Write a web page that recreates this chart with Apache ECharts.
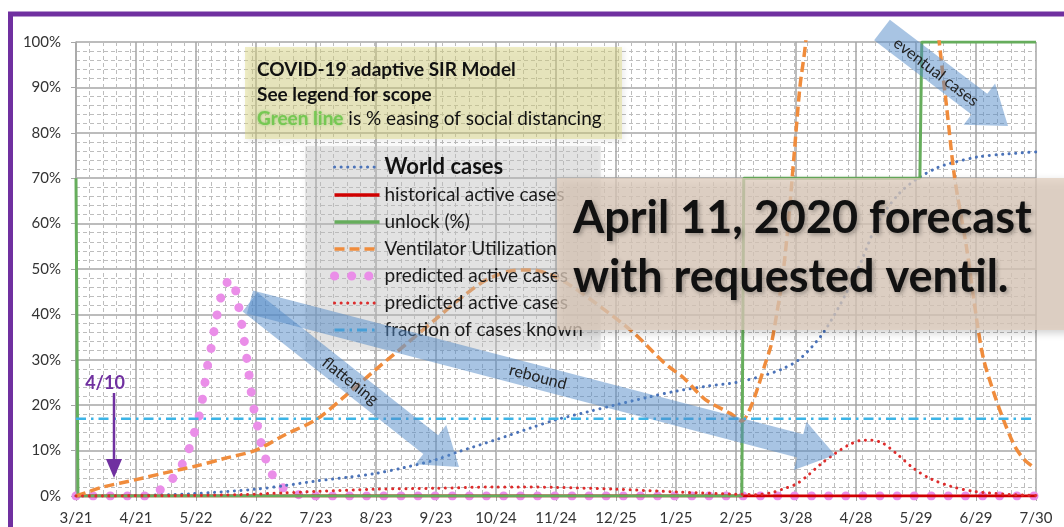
<!DOCTYPE html>
<html>
<head>
<meta charset="utf-8">
<script src="https://cdn.jsdelivr.net/npm/echarts@6/dist/echarts.min.js"></script>
<style>
html, body { margin: 0; padding: 0; background: #fff; }
#main { width: 1064px; height: 527px; }
</style>
</head>
<body>
<div id="main"></div>
<script>
// x is days since 3/21/2020, y is percent
var tickLabels = ['3/21', '4/21', '5/22', '6/22', '7/23', '8/23', '9/23', '10/24', '11/24',
    '12/25', '1/25', '2/25', '3/28', '4/28', '5/29', '6/29', '7/30'];

var worldDays = [0, 30, 60, 93, 108, 124, 140, 155, 170, 186, 198, 217, 235, 248, 264, 279, 295, 310, 326, 341, 355, 365, 374, 386, 398, 406, 414, 425, 435, 445, 452, 466, 480, 496];
var worldVals = [0, 0.1, 0.5, 1.5, 2.3, 3.3, 4.1, 5, 6.3, 8, 9.8, 12.4, 15, 16.8, 18.5, 20.1, 21.7, 23.1, 24.2, 25, 26.5, 28, 30.2, 35.9, 44.7, 52, 60, 66.5, 70, 72.3, 73.3, 74.7, 75.3, 75.8];

var histDays = [0, 496];
var histVals = [0, 0];

var unlockDays = [0, 1, 344, 345, 436, 437, 496];
var unlockVals = [70, 0, 0, 70, 70, 100, 100];

var ventDays = [0, 7, 14, 31, 46, 62, 76, 93, 108, 124, 139, 155, 171, 186, 200, 212, 225, 235, 245, 255, 270, 288, 304, 314, 325, 338, 344, 348, 352, 356, 359, 362, 365, 368, 371, 374, 377, 381, 390, 410, 430, 440, 446, 450, 454, 460, 466, 469, 474, 479, 485, 490, 496];
var ventVals = [0, 1, 2, 3.6, 5.1, 6.6, 8.2, 10.1, 13.5, 16.8, 22, 27.9, 33.6, 39, 44, 47.6, 49.6, 49.8, 48.8, 46.5, 42, 36, 29.3, 26, 21.3, 18.2, 16.5, 19, 23.5, 29, 33, 40, 48, 60, 75, 90, 100, 125, 170, 220, 170, 125, 100, 85, 70, 55, 37, 30, 23, 17, 11, 8, 6];

var pinkDays = [0, 36, 40, 46, 52, 57, 60, 63, 65, 66.5, 68, 70, 72, 75, 78, 81, 83, 85, 87, 89, 90.5, 92, 94, 96, 99, 103, 109, 116, 125, 496];
var pinkVals = [0, 0, 0.7, 2, 5, 8.7, 12.4, 16.5, 20.5, 24.6, 28.8, 33, 38, 44, 47, 47.5, 44, 39.5, 34, 28, 23, 19, 15, 11, 7, 3.5, 1.2, 0.2, 0, 0];

var redDays = [0, 60, 85, 108, 124, 155, 186, 217, 229, 248, 279, 310, 341, 352, 360, 365, 372, 378, 385, 392, 399, 405, 411, 417, 424, 433, 442, 453, 464, 480, 496];
var redVals = [0, 0.1, 0.3, 0.7, 1, 1.5, 1.7, 2, 2, 1.9, 1.5, 0.9, 0.4, 0.3, 0.8, 1.5, 2.6, 4.5, 7.1, 9.3, 11.2, 12.2, 12.3, 11.6, 9.3, 6, 3.7, 2, 1, 0.4, 0.1];

var knownDays = [0, 496];
var knownVals = [17, 17];

var FONT = 'Lato, "Open Sans", sans-serif';

function pairs(days, vals) {
    return days.map(function (d, i) { return [d, vals[i]]; });
}

function arrowPts(x1, y1, x2, y2, sw, hw, hl) {
    var dx = x2 - x1, dy = y2 - y1;
    var L = Math.sqrt(dx * dx + dy * dy);
    var ux = dx / L, uy = dy / L, px = -uy, py = ux;
    var bx = x2 - ux * hl, by = y2 - uy * hl;
    return [
        [x1 + px * sw / 2, y1 + py * sw / 2],
        [bx + px * sw / 2, by + py * sw / 2],
        [bx + px * hw / 2, by + py * hw / 2],
        [x2, y2],
        [bx - px * hw / 2, by - py * hw / 2],
        [bx - px * sw / 2, by - py * sw / 2],
        [x1 - px * sw / 2, y1 - py * sw / 2]
    ];
}

function angleOf(x1, y1, x2, y2) {
    return -Math.atan2(y2 - y1, x2 - x1);
}

var arrowFill = 'rgba(82,137,200,0.5)';
var myChart = echarts.init(document.getElementById('main'));

var gridLine = '#a6a6a6';
var minorLine = '#bdbdbd';
var noSymbol = { color: 'rgba(0,0,0,0)', opacity: 0, borderWidth: 0 };

var option = {
    animation: false,
    backgroundColor: '#fff',
    grid: { left: 76, right: 28, top: 42, bottom: 31, containLabel: false },
    xAxis: [{
        type: 'value',
        min: 0,
        max: 496,
        interval: 31,
        axisLine: { show: true, lineStyle: { color: gridLine, width: 1.5 } },
        axisTick: { show: true, length: 5, lineStyle: { color: gridLine } },
        axisLabel: {
            margin: 15,
            color: '#333',
            fontSize: 15,
            fontFamily: FONT,
            formatter: function (v) { return tickLabels[Math.round(v / 31)]; }
        },
        splitLine: { show: true, lineStyle: { color: gridLine, width: 1.5 } }
    }, {
        // minor weekly gridlines
        type: 'value',
        min: 0,
        max: 496,
        interval: 7,
        position: 'bottom',
        axisLine: { show: false },
        axisTick: { show: false },
        axisLabel: { show: false },
        splitLine: { show: true, lineStyle: { color: minorLine, width: 1, type: [4, 3] } }
    }],
    yAxis: {
        type: 'value',
        min: 0,
        max: 100,
        interval: 10,
        axisLine: { show: true, lineStyle: { color: gridLine, width: 1.5 } },
        axisTick: { show: true, length: 5, lineStyle: { color: gridLine } },
        axisLabel: {
            margin: 15,
            color: '#333',
            fontSize: 15,
            fontFamily: FONT,
            formatter: '{value}%'
        },
        splitLine: { show: true, lineStyle: { color: gridLine, width: 1.5 } },
        minorTick: { show: false, splitNumber: 5 },
        minorSplitLine: { show: true, lineStyle: { color: minorLine, width: 1, type: [4, 3] } }
    },
    legend: {
        orient: 'vertical',
        left: 305,
        top: 146,
        padding: [10, 18, 10, 25],
        itemWidth: 45,
        itemHeight: 14,
        itemGap: 7,
        backgroundColor: 'rgba(200,200,200,0.4)',
        shadowBlur: 6,
        shadowColor: 'rgba(0,0,0,0.12)',
        selectedMode: false,
        itemStyle: noSymbol,
        textStyle: {
            fontFamily: FONT,
            fontSize: 19,
            lineHeight: 20,
            color: '#1a1a1a',
            rich: {
                b: { fontFamily: FONT, fontSize: 22, fontWeight: 'bold', lineHeight: 20, color: '#111' }
            }
        },
        formatter: function (name) {
            return name === 'World cases' ? '{b|' + name + '}' : name;
        },
        data: [
            { name: 'World cases', lineStyle: { width: 3, color: '#4a72b8' } },
            { name: 'historical active cases', lineStyle: { width: 3.5, color: '#d00000' } },
            { name: 'unlock (%)', lineStyle: { width: 3.5, color: '#66ad5c' } },
            { name: 'Ventilator Utilization', lineStyle: { width: 3.5, color: '#f08c3c' } },
            { name: 'predicted active cases', lineStyle: { width: 9, color: '#ea8ee8' } },
            { name: 'predicted active cases ', lineStyle: { width: 3, color: '#dd2b2b' } },
            { name: 'fraction of cases known', lineStyle: { width: 3, color: '#3cb4e6' } }
        ]
    },
    series: [{
        name: 'World cases',
        type: 'line',
        smooth: 0.3,
        symbol: 'none',
        data: pairs(worldDays, worldVals),
        itemStyle: { color: '#4a72b8' },
        lineStyle: { color: '#4a72b8', width: 3, type: [0.1, 6.5], cap: 'round' }
    }, {
        name: 'historical active cases',
        type: 'line',
        symbol: 'none',
        data: pairs(histDays, histVals),
        itemStyle: { color: '#d00000' },
        lineStyle: { color: '#d00000', width: 3 }
    }, {
        name: 'unlock (%)',
        type: 'line',
        symbol: 'none',
        data: pairs(unlockDays, unlockVals),
        itemStyle: { color: '#66ad5c' },
        lineStyle: { color: '#66ad5c', width: 3 }
    }, {
        name: 'Ventilator Utilization',
        type: 'line',
        smooth: 0.3,
        symbol: 'none',
        data: pairs(ventDays, ventVals),
        itemStyle: { color: '#f08c3c' },
        lineStyle: { color: '#f08c3c', width: 3.5, type: [10, 5] }
    }, {
        name: 'predicted active cases',
        type: 'line',
        z: 1,
        smooth: 0.25,
        symbol: 'none',
        data: pairs(pinkDays, pinkVals),
        itemStyle: { color: '#ea8ee8' },
        lineStyle: { color: '#ea8ee8', width: 9, type: [0.1, 17], cap: 'round' }
    }, {
        name: 'predicted active cases ',
        type: 'line',
        smooth: 0.3,
        symbol: 'none',
        data: pairs(redDays, redVals),
        itemStyle: { color: '#dd2b2b' },
        lineStyle: { color: '#dd2b2b', width: 3, type: [0.1, 6.5], cap: 'round' }
    }, {
        name: 'fraction of cases known',
        type: 'line',
        symbol: 'none',
        data: pairs(knownDays, knownVals),
        itemStyle: { color: '#3cb4e6' },
        lineStyle: { color: '#3cb4e6', width: 2.5, type: [10, 5, 2.5, 5] }
    }],
    graphic: [
        // purple frame
        { type: 'rect', z: 50, shape: { x: 10.5, y: 14, width: 1100, height: 600 },
          style: { fill: null, stroke: '#7030a0', lineWidth: 5 } },
        // title box
        { type: 'rect', z: 60, shape: { x: 245, y: 47, width: 377, height: 92 },
          style: { fill: 'rgba(225,220,130,0.45)', shadowBlur: 6, shadowColor: 'rgba(0,0,0,0.18)', shadowOffsetX: 2, shadowOffsetY: 2 } },
        { type: 'text', z: 61, x: 257, y: 70,
          style: { text: 'COVID-19 adaptive SIR Model', font: 'bold 19px ' + FONT, fill: '#111', verticalAlign: 'middle' } },
        { type: 'text', z: 61, x: 257, y: 95,
          style: { text: 'See legend for scope', font: 'bold 19px ' + FONT, fill: '#111', verticalAlign: 'middle' } },
        { type: 'text', z: 61, x: 257, y: 119,
          style: {
              text: '{g|Green line} is % easing of social distancing',
              font: '19px ' + FONT, fill: '#111', verticalAlign: 'middle',
              rich: {
                  g: { font: 'bold 19px ' + FONT, fill: '#76c853', textShadowColor: 'rgba(110,190,80,0.7)', textShadowBlur: 3 }
              }
          } },
        // forecast box
        { type: 'rect', z: 90, shape: { x: 557, y: 178, width: 520, height: 152 },
          style: { fill: 'rgba(224,206,190,0.75)', shadowBlur: 8, shadowColor: 'rgba(0,0,0,0.25)', shadowOffsetX: 2, shadowOffsetY: 3 } },
        { type: 'text', z: 91, x: 573, y: 189,
          style: {
              text: 'April 11, 2020 forecast\nwith requested ventil.',
              font: 'bold 45px ' + FONT, lineHeight: 59, fill: '#111',
              textShadowColor: 'rgba(0,0,0,0.3)', textShadowBlur: 4, textShadowOffsetX: 2, textShadowOffsetY: 2
          } },
        // blue annotation arrows
        { type: 'polygon', z: 70, shape: { points: arrowPts(250, 302, 459, 467, 24, 50, 36) }, style: { fill: arrowFill } },
        { type: 'polygon', z: 70, shape: { points: arrowPts(250, 302, 835, 455, 24, 50, 36) }, style: { fill: arrowFill } },
        { type: 'polygon', z: 70, shape: { points: arrowPts(882, 30, 1008, 126, 26, 52, 36) }, style: { fill: arrowFill } },
        { type: 'text', z: 71, x: 350, y: 381, rotation: angleOf(250, 302, 459, 467),
          style: { text: 'flattening', font: '16px ' + FONT, fill: '#222', align: 'center', verticalAlign: 'middle' } },
        { type: 'text', z: 71, x: 538, y: 377, rotation: angleOf(250, 302, 835, 455),
          style: { text: 'rebound', font: '16px ' + FONT, fill: '#222', align: 'center', verticalAlign: 'middle' } },
        { type: 'text', z: 71, x: 936, y: 72, rotation: angleOf(882, 30, 1008, 126),
          style: { text: 'eventual cases', font: '16px ' + FONT, fill: '#222', align: 'center', verticalAlign: 'middle' } },
        // 4/10 marker
        { type: 'text', z: 72, x: 105, y: 383,
          style: { text: '4/10', font: 'bold 18px ' + FONT, fill: '#7030a0', align: 'center', verticalAlign: 'middle' } },
        { type: 'line', z: 72, shape: { x1: 114, y1: 393, x2: 114, y2: 462 }, style: { stroke: '#7030a0', lineWidth: 2.5 } },
        { type: 'polygon', z: 72, shape: { points: [[106, 459], [122, 459], [114, 478]] }, style: { fill: '#7030a0' } }
    ]
};

myChart.setOption(option);
</script>
</body>
</html>
